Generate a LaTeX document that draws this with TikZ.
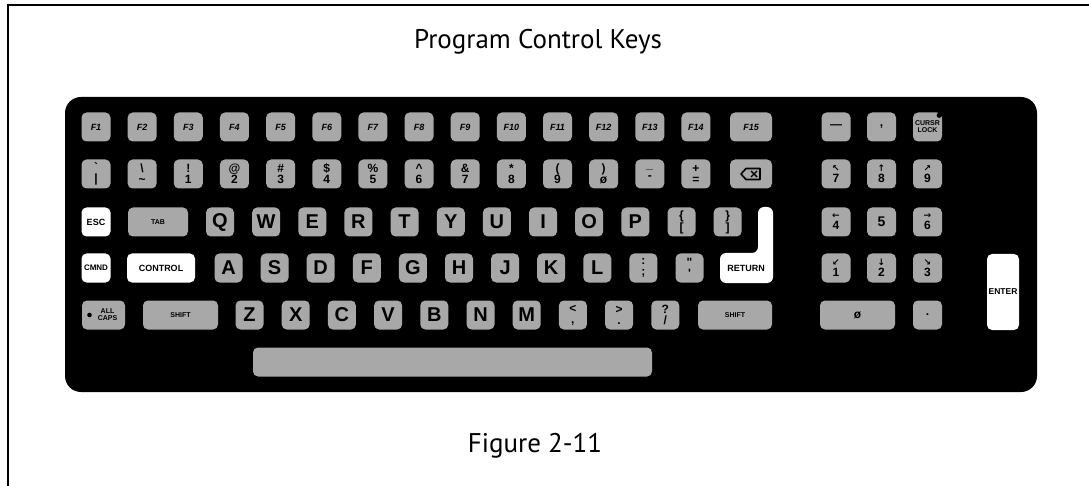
\documentclass[tikz,border=0pt]{standalone}
\usepackage{fontspec}
\setmainfont{PT Sans}
\newfontfamily\keyfont{Liberation Sans}
\newfontfamily\symfont{DejaVu Sans}
\definecolor{keygray}{RGB}{168,168,168}
\newcommand{\ardigit}[2]{{\symfont\fontsize{9}{9}\selectfont #1}\\#2}
\tikzset{
  keycap/.style={fill=keygray, rounded corners=5pt, minimum height=29pt, inner sep=0pt,
    text=black, align=center, font=\keyfont\bfseries\fontsize{10}{10}\selectfont},
  litkey/.style={keycap, fill=white},
  w/.style={minimum width=#1pt},
  fnlabel/.style={font=\keyfont\bfseries\itshape\fontsize{9}{9}\selectfont},
  letter/.style={font=\keyfont\bfseries\fontsize{20}{20}\selectfont},
  pair/.style={font=\keyfont\bfseries\fontsize{12}{11}\selectfont},
  tinylabel/.style={font=\keyfont\bfseries\fontsize{7}{7}\selectfont, align=center},
  whitelabel/.style={font=\keyfont\bfseries\fontsize{9}{9}\selectfont},
}
\begin{document}
\begin{tikzpicture}[x=1pt, y=-1pt]
\useasboundingbox (0,0) rectangle (1089,486);

% page frame
\draw[line width=1.6pt] (8,486) -- (8,5) -- (1089,5);

% captions
\node[anchor=base, font=\fontsize{27}{30}\selectfont] (title) at (538,49) {Program Control Keys};
\node[anchor=base, font=\fontsize{27}{30}\selectfont] (caption) at (535,452) {Figure 2-11};

% keyboard body
\node[fill=black, rounded corners=16pt, minimum width=972pt, minimum height=295pt, inner sep=0pt] (board) at (551,244.5) {};

% function key row
\foreach \i in {1,...,14}
  \node[keycap, w=29, fnlabel] (f\i) at ({96+46.15*(\i-1)},127) {F\i};
\node[keycap, w=42, fnlabel] (f15) at (751,127) {F15};

% number row
\node[keycap, w=29, pair] (n1)  at (96,174)     {\textasciigrave\\|};
\node[keycap, w=29, pair] (n2)  at (142.15,174) {\textbackslash\\\textasciitilde};
\node[keycap, w=29, pair] (n3)  at (188.3,174)  {!\\1};
\node[keycap, w=29, pair] (n4)  at (234.45,174) {@\\2};
\node[keycap, w=29, pair] (n5)  at (280.6,174)  {\#\\3};
\node[keycap, w=29, pair] (n6)  at (326.75,174) {\$\\4};
\node[keycap, w=29, pair] (n7)  at (372.9,174)  {\%\\5};
\node[keycap, w=29, pair] (n8)  at (419.05,174) {\textasciicircum\\6};
\node[keycap, w=29, pair] (n9)  at (465.2,174)  {\&\\7};
\node[keycap, w=29, pair] (n10) at (511.35,174) {*\\8};
\node[keycap, w=29, pair] (n11) at (557.5,174)  {(\\9};
\node[keycap, w=29, pair] (n12) at (603.65,174) {)\\ø};
\node[keycap, w=29, pair] (n13) at (649.8,174)  {\_\\-};
\node[keycap, w=29, pair] (n14) at (695.95,174) {+\\=};
\node[keycap, w=42] (bksp) at (751,174) {};
\draw[line width=1.6pt, line join=round]
  ([shift={(-10pt,0pt)}]bksp.center) -- ++(5pt,5.5pt) -- ++(14pt,0pt) -- ++(0pt,-11pt) -- ++(-14pt,0pt) -- cycle;
\draw[line width=1.4pt]
  ([shift={(0pt,3pt)}]bksp.center) -- ++(6pt,-6pt)
  ([shift={(0pt,-3pt)}]bksp.center) -- ++(6pt,6pt);

% QWERTY row
\node[litkey, w=29, whitelabel] (esc) at (96,222) {ESC};
\node[keycap, w=60, tinylabel] (tab) at (158,222) {TAB};
\foreach \c [count=\i from 0] in {Q,W,E,R,T,Y,U,I,O,P}
  \node[keycap, w=28, letter] (key\c) at ({220+46.15*\i},222) {\c};
\node[keycap, w=28, pair] (lbrace) at (681.5,222) {\{\\{[}};
\node[keycap, w=28, pair] (rbrace) at (727.65,222) {\}\\{]}};
\fill[white, rounded corners=6pt] (758,207) -- (773,207) -- (773,283) -- (720,283) -- (720,253) -- (758,253) -- cycle;
\node[whitelabel] (return) at (746,268) {RETURN};

% home row
\node[litkey, w=29, whitelabel, font=\keyfont\bfseries\fontsize{8}{8}\selectfont] (cmnd) at (96,268) {CMND};
\node[litkey, w=68, whitelabel] (control) at (161,268) {CONTROL};
\foreach \c [count=\i from 0] in {A,S,D,F,G,H,J,K,L}
  \node[keycap, w=28, letter] (key\c) at ({228.5+46.1*\i},268) {\c};
\node[keycap, w=28, pair] (colon) at (643.4,268) {:\\;};
\node[keycap, w=28, pair] (quote) at (689.5,268) {"\\'};

% bottom letter row
\node[keycap, w=43] (allcaps) at (103.5,315) {};
\fill ([xshift=-14pt]allcaps.center) circle (2.3pt);
\node[tinylabel] (allcaps-t) at ([xshift=4pt]allcaps.center) {ALL\\CAPS};
\node[keycap, w=75, tinylabel] (lshift) at (180.5,315) {SHIFT};
\foreach \c [count=\i from 0] in {Z,X,C,V,B,N,M}
  \node[keycap, w=28, letter] (key\c) at ({249.5+46.2*\i},315) {\c};
\node[keycap, w=28, pair] (less)  at (572.9,315) {<\\,};
\node[keycap, w=28, pair] (great) at (619.1,315) {>\\.};
\node[keycap, w=28, pair] (quest) at (665.3,315) {?\\/};
\node[keycap, w=74, tinylabel] (rshift) at (735,315) {SHIFT};

% space bar
\node[keycap, w=399] (space) at (452.5,362) {};

% numeric pad
\node[keycap, w=29, pair] (npminus) at (836,127)   {—};
\node[keycap, w=29, pair] (npcomma) at (881.5,127) {,};
\node[keycap, w=29, tinylabel] (cursr) at (927.5,127) {CURSR\\LOCK};
\fill ([shift={(-3pt,-3pt)}]cursr.north east) circle (2.6pt);
\node[keycap, w=29, pair] (np7) at (836,174)   {\ardigit{↖}{7}};
\node[keycap, w=29, pair] (np8) at (881.5,174) {\ardigit{↑}{8}};
\node[keycap, w=29, pair] (np9) at (927.5,174) {\ardigit{↗}{9}};
\node[keycap, w=29, pair] (np4) at (836,222)   {\ardigit{←}{4}};
\node[keycap, w=29, font=\keyfont\bfseries\fontsize{14}{14}\selectfont] (np5) at (881.5,222) {5};
\node[keycap, w=29, pair] (np6) at (927.5,222) {\ardigit{→}{6}};
\node[keycap, w=29, pair] (np1) at (836,268)   {\ardigit{↙}{1}};
\node[keycap, w=29, pair] (np2) at (881.5,268) {\ardigit{↓}{2}};
\node[keycap, w=29, pair] (np3) at (927.5,268) {\ardigit{↘}{3}};
\node[keycap, w=75, pair] (np0) at (857.5,315) {ø};
\node[keycap, w=29, pair] (npdot) at (927.5,315) {.};
\node[litkey, w=32, minimum height=76pt, font=\keyfont\bfseries\fontsize{8.5}{8.5}\selectfont] (enter) at (1003,292) {ENTER};
\end{tikzpicture}
\end{document}
